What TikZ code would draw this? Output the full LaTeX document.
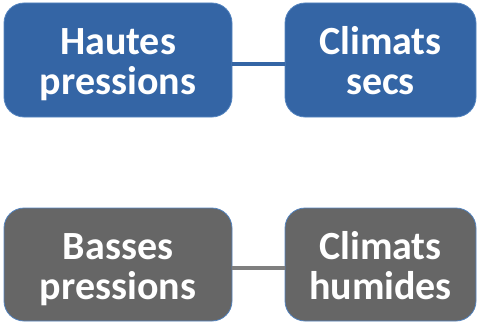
\documentclass[tikz,border=0pt]{standalone}
\usepackage{fontspec}
\setmainfont{Carlito}
\definecolor{boxblue}{HTML}{3465A5}
\definecolor{boxgray}{HTML}{666666}
\definecolor{edgeblue}{HTML}{5585C0}
\definecolor{linegray}{HTML}{7F7F7F}
\newcommand{\twolines}[2]{\raisebox{-13pt}[0pt][0pt]{\begin{tabular}{@{}c@{}}#1\\#2\end{tabular}}}
\begin{document}
\begin{tikzpicture}[x=1pt,y=1pt,
  card/.style={draw=edgeblue, line width=0.8pt, rounded corners=20pt,
    text=white, font=\fontsize{40}{40}\selectfont\bfseries,
    inner sep=0pt},
  bluecard/.style={card, fill=boxblue},
  graycard/.style={card, fill=boxgray},
  link/.style={line width=3.5pt}]
\useasboundingbox (0,0) rectangle (479,322);
\node[bluecard, minimum width=228pt, minimum height=114pt] (hp) at (118,262) {\twolines{Hautes}{pressions}};
\node[bluecard, minimum width=191pt, minimum height=114pt] (cs) at (380.5,262) {\twolines{Climats}{secs}};
\node[graycard, minimum width=228pt, minimum height=113pt] (bp) at (118,57.5) {\twolines{Basses}{pressions}};
\node[graycard, minimum width=191pt, minimum height=113pt] (ch) at (380.5,57.5) {\twolines{Climats}{humides}};
\draw[link, boxblue] (hp.east |- 0,258) -- (cs.west |- 0,258);
\draw[link, linegray] (bp.east |- 0,54) -- (ch.west |- 0,54);
\end{tikzpicture}
\end{document}
